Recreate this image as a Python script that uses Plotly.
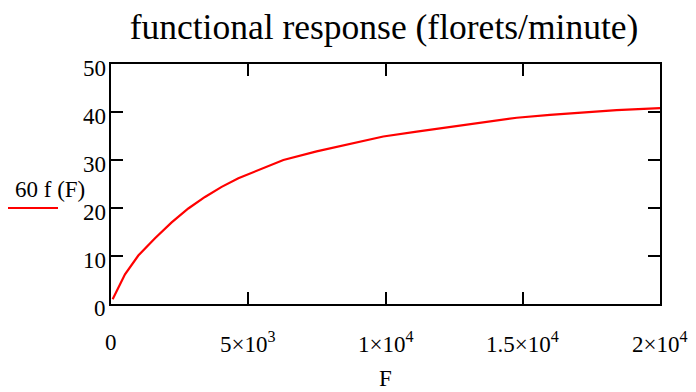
import plotly.graph_objects as go

# values
F_vals = [60, 510, 995, 1603, 2210, 2817, 3424, 4031, 4640, 5185, 6280, 7490, 8710,
          9920, 11140, 12350, 13560, 14780, 15990, 17200, 18420, 20000]
resp_vals = [1.0, 6.2, 10.1, 13.7, 17.0, 19.9, 22.3, 24.4, 26.2, 27.5, 30.0, 31.8, 33.4,
             34.9, 35.9, 36.9, 37.9, 38.8, 39.4, 39.9, 40.4, 40.8]

x_tickvals = [0, 5000, 10000, 15000, 20000]
x_ticktext = ["0", "5×10<sup>3</sup>", "1×10<sup>4</sup>", "1.5×10<sup>4</sup>", "2×10<sup>4</sup>"]
y_tickvals = [0, 10, 20, 30, 40, 50]
y_ticktext = ["0", "10", "20", "30", "40", "50"]

title_text = "functional response (florets/minute)"
x_title = "F"
y_label = "60 f (F)"

FONT = "Liberation Serif"
F23 = dict(family=FONT, size=23, color="black")

# the page body keeps its default 8px margin, so the figure is 8px smaller
W, H = 688, 384

fig = go.Figure()
fig.add_trace(go.Scatter(x=F_vals, y=resp_vals, mode="lines",
                         line=dict(color="#ff0000", width=2.2),
                         showlegend=False, hoverinfo="skip"))

fig.update_layout(
    width=W, height=H,
    margin=dict(l=103, r=36, t=56, b=88),
    paper_bgcolor="white", plot_bgcolor="white",
    font=dict(family=FONT, color="black", size=23),
    title=dict(text=title_text, x=376 / W, xanchor="center", xref="container", y=1 - 19 / H, yanchor="middle",
               yref="container", font=dict(family=FONT, size=35.5, color="black")),
)
fig.update_xaxes(range=[0, 20000], tickvals=x_tickvals, showticklabels=False,
                 showgrid=False, zeroline=False, showline=True, linecolor="black", linewidth=2,
                 ticks="inside", ticklen=12, tickwidth=2, tickcolor="black", mirror="allticks")
fig.update_yaxes(range=[0, 50], tickvals=y_tickvals, showticklabels=False,
                 showgrid=False, zeroline=False, showline=True, linecolor="black", linewidth=2,
                 ticks="inside", ticklen=12, tickwidth=2, tickcolor="black", mirror="allticks")

# tick labels drawn as text at the axis values
for v, t in zip(x_tickvals, x_ticktext):
    fig.add_annotation(text=t, x=v, xref="x", y=-38 / 240, yref="paper",
                       xanchor="center", yanchor="middle", showarrow=False, font=F23)
for v, t in zip(y_tickvals, y_ticktext):
    fig.add_annotation(text=t, x=-3 / 549, xref="paper", y=v, yref="y", yshift=-4,
                       xanchor="right", yanchor="middle", showarrow=False, font=F23)

fig.add_annotation(text=x_title, x=0.5, xref="paper", y=-88 / 240, yref="paper",
                   xanchor="center", yanchor="bottom", showarrow=False, font=F23, borderpad=0)

fig.add_annotation(text=y_label, xref="paper", yref="paper", x=-98 / 549, y=(304 - 189) / 240,
                   xanchor="left", yanchor="middle", showarrow=False, font=F23)
fig.add_shape(type="line", xref="paper", yref="paper", x0=-103 / 549, x1=-53 / 549, y0=(304 - 208) / 240,
              y1=(304 - 208) / 240, line=dict(color="#ff0000", width=2))

fig.write_html("out.html")
